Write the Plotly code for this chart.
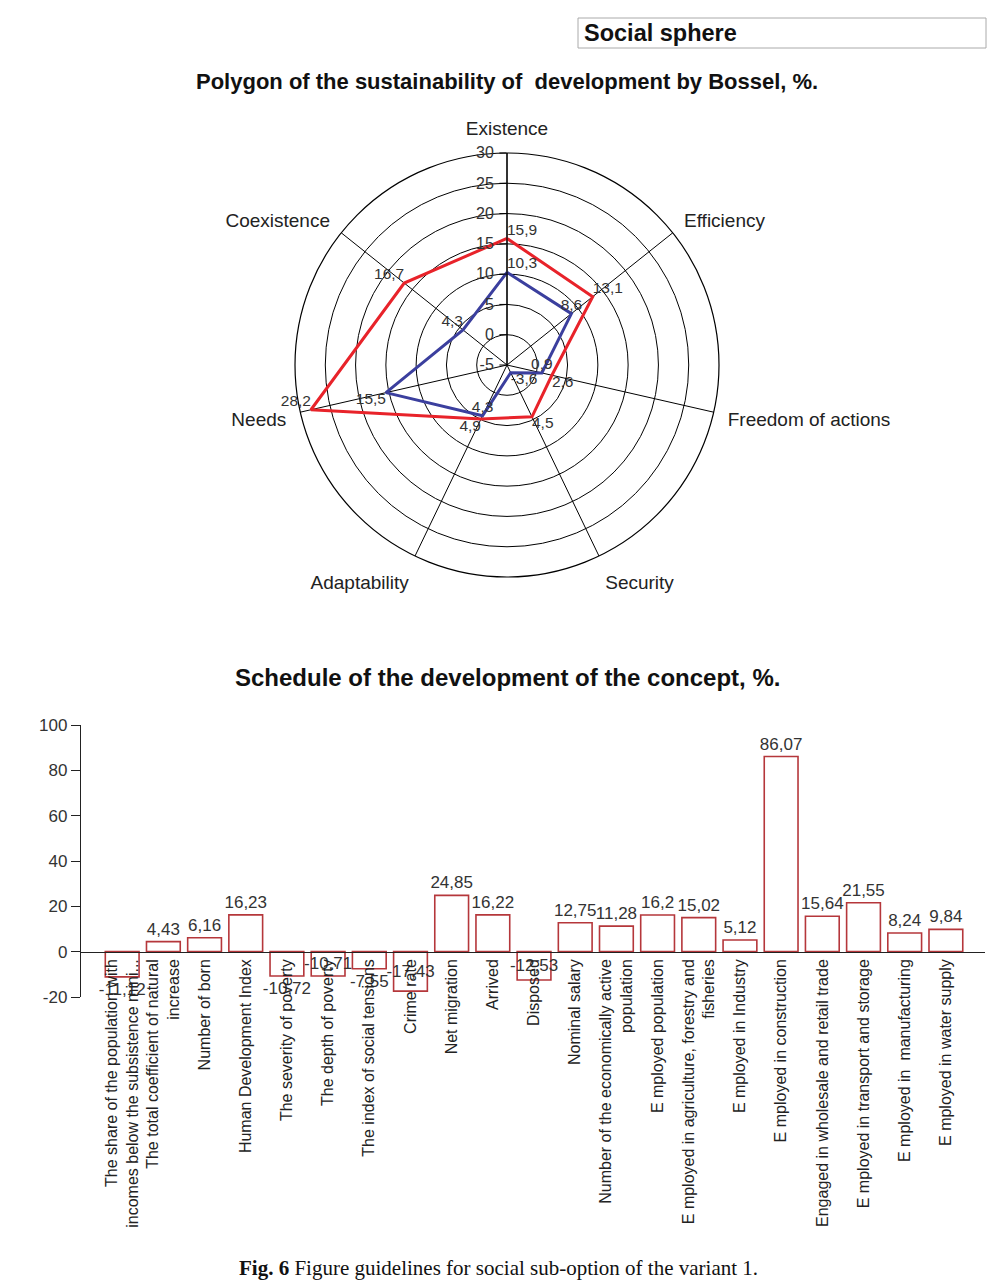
import plotly.graph_objects as go

W, H = 997, 1284

# ---------------- data ----------------
radar_axes = ["Existence", "Efficiency", "Freedom of actions", "Security",
              "Adaptability", "Needs", "Coexistence"]
red_values = [15.9, 13.1, 2.6, 4.5, 4.9, 28.2, 16.7]
blue_values = [10.3, 8.6, 0.9, -3.6, 4.3, 15.5, 4.3]
radial_ticks = [-5, 0, 5, 10, 15, 20, 25, 30]

bar_categories = [
    "The share of the population with<br>incomes below the subsistence mini...",
    "The total coefficient of natural<br>increase",
    "Number of born",
    "Human Development Index",
    "The severity of poverty",
    "The depth of poverty",
    "The index of social tensions",
    "Crime rate",
    "Net migration",
    "Arrived",
    "Disposed",
    "Nominal salary",
    "Number of the economically active<br>population",
    "E mployed population",
    "E mployed in agriculture, forestry and<br>fisheries",
    "E mployed in Industry",
    "E mployed in construction",
    "Engaged in wholesale and retail trade",
    "E mployed in transport and storage",
    "E mployed in  manufacturing",
    "E mployed in water supply",
]
bar_values = [-11.12, 4.43, 6.16, 16.23, -10.72, -10.71, -7.55, -17.43, 24.85,
              16.22, -12.53, 12.75, 11.28, 16.2, 15.02, 5.12, 86.07, 15.64,
              21.55, 8.24, 9.84]
bar_yticks = [-20, 0, 20, 40, 60, 80, 100]

# ---------------- helpers ----------------
def fmt(v):
    return str(v).replace(".", ",")

def px_x(p):
    return p / W

def px_y(p):
    return 1 - p / H

FONT = "Liberation Sans, Arial, sans-serif"
RED = "#e8232a"
BLUE = "#3b3f9e"
BAR_EDGE = "#b5373b"

fig = go.Figure()

# ---------------- radar ----------------
red_pos = ["top right", "top right", "bottom right", "bottom right",
           "bottom left", "top left", "top left"]
blue_pos = ["top right", "top center", "top center", "bottom right",
            "top center", "bottom left", "top left"]

def closed(lst):
    return list(lst) + [lst[0]]

for vals, pos, col in ((red_values, red_pos, RED), (blue_values, blue_pos, BLUE)):
    fig.add_trace(go.Scatterpolar(
        r=closed(vals), theta=closed(radar_axes),
        mode="lines+text",
        text=[fmt(v) for v in vals] + [""],
        textposition=closed(pos),
        textfont=dict(family=FONT, size=15.5, color="#333"),
        line=dict(color=col, width=3),
        cliponaxis=False, showlegend=False, subplot="polar",
    ))

cx, cy, R = 507, 365, 212
fig.update_layout(polar=dict(
    domain=dict(x=[px_x(cx - R), px_x(cx + R)], y=[px_y(cy + R), px_y(cy - R)]),
    bgcolor="white",
    radialaxis=dict(
        range=[radial_ticks[0], radial_ticks[-1]],
        tickvals=radial_ticks, ticktext=[str(t) for t in radial_ticks],
        angle=90, side="counterclockwise", tickangle=90,
        showline=True, linecolor="black", linewidth=1.2,
        ticks="outside", ticklen=7, tickcolor="black",
        gridcolor="black", gridwidth=1.2,
        tickfont=dict(family=FONT, size=16, color="#333"),
    ),
    angularaxis=dict(
        direction="clockwise", rotation=90,
        categoryorder="array", categoryarray=radar_axes,
        showline=True, linecolor="black", linewidth=1.2,
        gridcolor="black", gridwidth=1.2,
        ticks="outside", ticklen=10, tickcolor="rgba(0,0,0,0)",
        tickfont=dict(family=FONT, size=19, color="#222"),
    ),
))

# ---------------- bar chart ----------------
# label placement per bar (some negative labels sit inside their bar, as in the source)
bar_label_pos = ["outside"] * len(bar_values)
for i in (5, 7, 10):
    bar_label_pos[i] = "inside"

fig.add_trace(go.Bar(
    x=bar_categories, y=bar_values,
    marker=dict(color="white", line=dict(color=BAR_EDGE, width=1.6)),
    text=[fmt(v) for v in bar_values], textposition=bar_label_pos,
    constraintext="none", insidetextanchor="middle", textangle=0,
    textfont=dict(family=FONT, size=17, color="#333"),
    insidetextfont=dict(family=FONT, size=17, color="#333"),
    outsidetextfont=dict(family=FONT, size=17, color="#333"),
    cliponaxis=False, showlegend=False, xaxis="x", yaxis="y",
))

y_top_px, y_bot_px = 725, 997
ydom = [px_y(y_bot_px), px_y(y_top_px)]
ymin, ymax = bar_yticks[0], bar_yticks[-1]
zero_pos = ydom[0] + (0 - ymin) / (ymax - ymin) * (ydom[1] - ydom[0])

fig.update_layout(
    xaxis=dict(
        domain=[px_x(81), px_x(985)],
        range=[-1.0, len(bar_categories) - 0.05],
        anchor="free", position=zero_pos,
        showline=True, linecolor="#222", linewidth=1.3,
        ticks="", tickangle=-90, showgrid=False, zeroline=False,
        tickfont=dict(family=FONT, size=16, color="#222"),
    ),
    yaxis=dict(
        domain=ydom, range=[ymin, ymax], anchor="x",
        tickvals=bar_yticks, ticktext=[str(t) for t in bar_yticks],
        showline=True, linecolor="#222", linewidth=1.3,
        ticks="outside", ticklen=9, tickcolor="#222",
        showgrid=False, zeroline=False,
        tickfont=dict(family=FONT, size=17, color="#333"),
    ),
    bargap=0.18,
    uniformtext=dict(minsize=17, mode="show"),
)

# ---------------- texts & decorations ----------------
fig.add_shape(type="rect", xref="paper", yref="paper",
              x0=px_x(578), x1=px_x(986), y0=px_y(48), y1=px_y(18),
              line=dict(color="#aaa", width=1), fillcolor="white")
fig.add_annotation(text="<b>Social sphere</b>", xref="paper", yref="paper",
                   x=px_x(582), y=px_y(33), xanchor="left", yanchor="middle",
                   showarrow=False, font=dict(family=FONT, size=23.5, color="#111"))
fig.add_annotation(text="<b>Polygon of the sustainability of  development by Bossel, %.</b>",
                   xref="paper", yref="paper", x=px_x(507), y=px_y(82),
                   xanchor="center", yanchor="middle", showarrow=False,
                   font=dict(family=FONT, size=22, color="#111"))
fig.add_annotation(text="<b>Schedule of the development of the concept, %.</b>",
                   xref="paper", yref="paper", x=px_x(507), y=px_y(677),
                   xanchor="center", yanchor="middle", showarrow=False,
                   font=dict(family=FONT, size=24, color="#111"))
fig.add_annotation(text="<b>Fig. 6</b> Figure guidelines for social sub-option of the variant 1.",
                   xref="paper", yref="paper", x=px_x(499), y=px_y(1268),
                   xanchor="center", yanchor="middle", showarrow=False,
                   font=dict(family="Liberation Serif, Times New Roman, serif", size=21, color="#111"))

fig.update_layout(
    width=W, height=H,
    margin=dict(l=0, r=0, t=0, b=0, pad=0, autoexpand=False),
    paper_bgcolor="white", plot_bgcolor="white",
    font=dict(family=FONT),
)

fig.write_html("out.html",
               config={"displayModeBar": False},
               post_script="document.body.style.margin='0';document.body.style.overflow='hidden';")
